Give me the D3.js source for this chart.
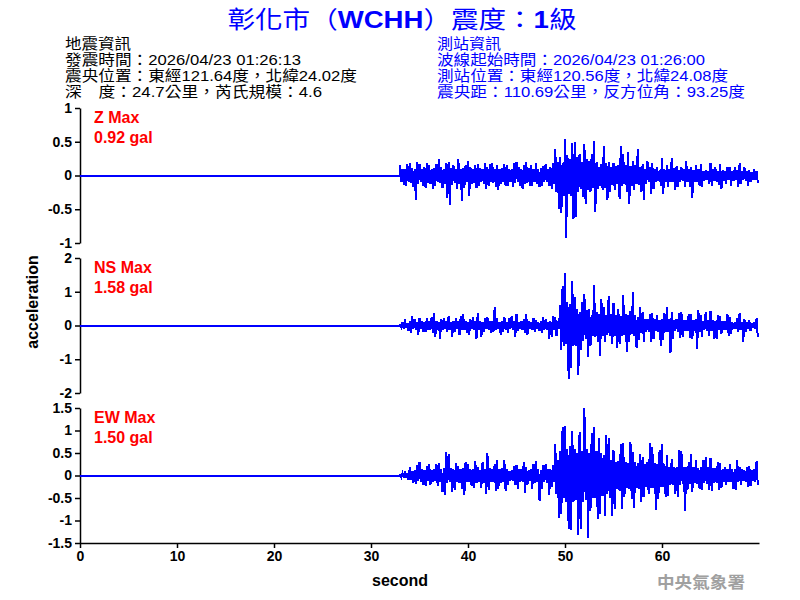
<!DOCTYPE html>
<html lang="zh-Hant">
<head>
<meta charset="UTF-8">
<title>彰化市 WCHH 震度</title>
<script src="https://cdn.jsdelivr.net/npm/d3@7"></script>
<style>
	body{margin:0;background:#fff;}
	svg{display:block;}
	.axis text{font-family:"Liberation Sans",Arial,sans-serif;font-weight:bold;font-size:14px;fill:#000;}
	.axis path,.axis line{stroke:#000;stroke-width:1.5px;}
	.info{font-family:"Liberation Sans","Noto Sans CJK TC",sans-serif;font-size:15px;}
	.lbl{font-family:"Liberation Sans",Arial,sans-serif;font-weight:bold;font-size:16px;}
	.trace{fill:none;stroke:#0000ff;stroke-width:2px;shape-rendering:crispEdges;}
</style>
</head>
<body>
<svg id="chart" width="800" height="600"></svg>
<script>
// traces: high / low acceleration (gal) in 0.25 s bins from 33 s
var binStart = 33, binStep = 0.25, timeEnd = 70;

var zHi = [0.16,0.09,0.1,0.17,0.18,0.11,0.1,0.2, 0.17,0.1,0.12,0.19,0.15,0.09,0.11,0.17,
	0.25,0.12,0.1,0.18,0.2,0.11,0.16,0.1, 0.25,0.1,0.11,0.15,0.22,0.12,0.1,0.16,
	0.17,0.11,0.1,0.18,0.12,0.17,0.19,0.1, 0.15,0.1,0.11,0.17,0.16,0.09,0.1,0.18,
	0.2,0.12,0.1,0.16,0.2,0.11,0.15,0.09, 0.18,0.1,0.11,0.14,0.17,0.1,0.12,0.18,
	0.39,0.2,0.27,0.18,0.54,0.3,0.25,0.48, 0.49,0.28,0.32,0.2,0.47,0.25,0.22,0.32,
	0.51,0.2,0.12,0.17,0.44,0.18,0.2,0.13, 0.18,0.14,0.15,0.44,0.32,0.16,0.35,0.14,
	0.22,0.15,0.4,0.12,0.17,0.1,0.22,0.12, 0.18,0.09,0.12,0.08,0.26,0.1,0.15,0.09,
	0.26,0.11,0.14,0.08,0.12,0.09,0.21,0.1, 0.12,0.08,0.15,0.09,0.17,0.07,0.08,0.06,
	0.18,0.09,0.12,0.07,0.17,0.08,0.07,0.13, 0.12,0.07,0.12,0.08,0.18,0.07,0.12,0.06,
	0.08,0.05,0.09,0.06];
var zLo = [-0.1,-0.14,-0.16,-0.1,-0.11,-0.17,-0.36,-0.12, -0.1,-0.16,-0.18,-0.11,-0.12,-0.2,-0.15,-0.1,
	-0.11,-0.18,-0.12,-0.33,-0.44,-0.14,-0.11,-0.2, -0.12,-0.38,-0.18,-0.1,-0.3,-0.12,-0.11,-0.18,
	-0.16,-0.1,-0.12,-0.2,-0.15,-0.1,-0.11,-0.17, -0.22,-0.12,-0.1,-0.16,-0.15,-0.1,-0.17,-0.11,
	-0.1,-0.16,-0.2,-0.12,-0.11,-0.15,-0.16,-0.1, -0.12,-0.17,-0.15,-0.1,-0.1,-0.16,-0.2,-0.12,
	-0.25,-0.49,-0.56,-0.3,-0.92,-0.28,-0.3,-0.64, -0.62,-0.25,-0.2,-0.32,-0.42,-0.22,-0.25,-0.18,
	-0.54,-0.2,-0.15,-0.22,-0.18,-0.37,-0.25,-0.14, -0.22,-0.13,-0.35,-0.15,-0.12,-0.25,-0.42,-0.16,
	-0.22,-0.12,-0.14,-0.25,-0.36,-0.12,-0.1,-0.28, -0.2,-0.1,-0.08,-0.15,-0.28,-0.1,-0.17,-0.09,
	-0.1,-0.22,-0.17,-0.09,-0.08,-0.17,-0.1,-0.17, -0.33,-0.1,-0.09,-0.15,-0.17,-0.08,-0.07,-0.12,
	-0.16,-0.08,-0.09,-0.14,-0.2,-0.08,-0.12,-0.07, -0.15,-0.08,-0.07,-0.17,-0.13,-0.07,-0.08,-0.16,
	-0.1,-0.06,-0.07,-0.11];

var nsHi = [0.03,0.1,0.2,0.08,0.14,0.27,0.2,0.1, 0.22,0.12,0.1,0.23,0.13,0.25,0.37,0.12,
	0.11,0.2,0.23,0.12,0.27,0.1,0.13,0.22, 0.12,0.27,0.33,0.13,0.1,0.2,0.25,0.12,
	0.37,0.12,0.11,0.23,0.25,0.13,0.12,0.54, 0.22,0.1,0.13,0.25,0.11,0.23,0.27,0.12,
	0.33,0.1,0.12,0.2,0.33,0.13,0.1,0.22, 0.17,0.1,0.12,0.25,0.2,0.11,0.13,0.27,
	0.25,0.12,0.6,1.16,1.55,0.7,0.65,1.33, 0.84,0.5,0.4,0.69,0.94,0.45,0.5,0.3,
	1.19,0.4,0.35,0.79,0.54,0.3,0.86,0.35, 0.66,0.3,0.5,0.28,0.89,0.35,0.3,0.44,
	0.98,0.3,0.25,0.54,0.4,0.2,0.18,0.35, 0.37,0.18,0.3,0.15,0.2,0.37,0.56,0.2,
	0.4,0.16,0.18,0.37,0.4,0.17,0.15,0.33, 0.35,0.15,0.18,0.46,0.3,0.14,0.4,0.16,
	0.44,0.15,0.14,0.3,0.27,0.12,0.13,0.33, 0.25,0.1,0.11,0.23,0.37,0.1,0.2,0.09,
	0.15,0.08,0.1,0.23];
var nsLo = [-0.04,-0.1,-0.08,-0.17,-0.23,-0.1,-0.12,-0.27, -0.11,-0.18,-0.2,-0.12,-0.13,-0.22,-0.33,-0.12,
	-0.41,-0.12,-0.11,-0.2,-0.12,-0.35,-0.2,-0.11, -0.27,-0.12,-0.13,-0.22,-0.27,-0.1,-0.12,-0.41,
	-0.12,-0.35,-0.2,-0.11,-0.13,-0.22,-0.2,-0.12, -0.11,-0.27,-0.2,-0.12,-0.23,-0.1,-0.13,-0.33,
	-0.17,-0.1,-0.12,-0.22,-0.27,-0.11,-0.13,-0.2, -0.1,-0.17,-0.22,-0.12,-0.13,-0.4,-0.33,-0.12,
	-0.3,-0.11,-0.72,-0.6,-0.55,-1.58,-1.25,-0.6, -0.6,-1.48,-0.74,-0.45,-0.4,-0.94,-0.6,-0.3,
	-0.35,-0.5,-0.89,-0.3,-0.49,-0.28,-0.3,-0.54, -0.3,-0.66,-0.55,-0.3,-0.28,-0.79,-0.49,-0.25,
	-0.3,-0.66,-0.44,-0.22,-0.5,-0.18,-0.2,-0.49, -0.4,-0.17,-0.2,-0.62,-0.42,-0.18,-0.2,-0.82,
	-0.4,-0.16,-0.18,-0.37,-0.35,-0.15,-0.17,-0.37, -0.4,-0.15,-0.69,-0.2,-0.35,-0.14,-0.15,-0.3,
	-0.16,-0.4,-0.4,-0.14,-0.25,-0.12,-0.13,-0.3, -0.25,-0.1,-0.11,-0.2,-0.12,-0.49,-0.2,-0.1,
	-0.15,-0.08,-0.1,-0.33];

var ewHi = [0.03,0.05,0.1,0.06,0.2,0.1,0.12,0.24, 0.3,0.14,0.13,0.22,0.26,0.13,0.14,0.26,
	0.28,0.15,0.16,0.53,0.48,0.16,0.15,0.27, 0.22,0.14,0.16,0.3,0.26,0.15,0.14,0.32,
	0.19,0.13,0.3,0.15,0.5,0.16,0.14,0.26, 0.35,0.15,0.16,0.35,0.15,0.11,0.13,0.22,
	0.24,0.14,0.15,0.3,0.19,0.12,0.14,0.26, 0.33,0.15,0.13,0.24,0.26,0.14,0.15,0.24,
	0.7,0.35,0.55,1.07,1.09,0.6,0.65,1.0, 0.59,0.5,0.96,0.55,1.5,0.6,0.5,0.94,
	1.07,0.55,0.84,0.5,0.45,0.91,0.84,0.35, 0.56,0.3,0.32,0.7,0.72,0.3,0.28,0.74,
	0.52,0.3,0.28,0.48,0.41,0.25,0.3,0.72, 0.64,0.28,0.25,0.57,0.7,0.25,0.45,0.2,
	0.37,0.2,0.18,0.56,0.54,0.2,0.18,0.3, 0.47,0.18,0.35,0.17,0.2,0.35,0.41,0.18,
	0.38,0.17,0.16,0.3,0.27,0.15,0.2,0.14, 0.26,0.15,0.14,0.35,0.2,0.14,0.13,0.2,
	0.22,0.13,0.15,0.33];
var ewLo = [-0.03,-0.05,-0.06,-0.11,-0.1,-0.17,-0.19,-0.12, -0.14,-0.22,-0.24,-0.13,-0.2,-0.14,-0.13,-0.24,
	-0.15,-0.37,-0.44,-0.16,-0.15,-0.37,-0.33,-0.14, -0.16,-0.3,-0.44,-0.15,-0.14,-0.24,-0.27,-0.16,
	-0.15,-0.27,-0.16,-0.42,-0.33,-0.14,-0.15,-0.35, -0.3,-0.16,-0.14,-0.35,-0.22,-0.12,-0.13,-0.22,
	-0.3,-0.14,-0.15,-0.39,-0.22,-0.13,-0.3,-0.16, -0.14,-0.56,-0.3,-0.15,-0.16,-0.44,-0.26,-0.14,
	-0.4,-0.94,-0.85,-0.5,-0.6,-1.19,-1.22,-0.6, -0.55,-1.33,-1.19,-0.6,-0.55,-1.39,-0.78,-0.5,
	-0.5,-0.96,-0.85,-0.45,-0.89,-0.4,-0.5,-0.89, -0.74,-0.3,-0.35,-0.74,-0.48,-0.28,-0.3,-0.52,
	-0.72,-0.28,-0.3,-0.59,-0.48,-0.25,-0.41,-0.28, -0.28,-0.76,-0.52,-0.25,-0.25,-0.48,-0.45,-0.2,
	-0.2,-0.41,-0.48,-0.2,-0.18,-0.78,-0.33,-0.18, -0.37,-0.17,-0.18,-0.3,-0.33,-0.17,-0.18,-0.33,
	-0.35,-0.17,-0.16,-0.33,-0.27,-0.15,-0.22,-0.14, -0.15,-0.3,-0.33,-0.14,-0.22,-0.13,-0.15,-0.26,
	-0.24,-0.13,-0.14,-0.2];

var channels = ["Z", "NS", "EW"];
var maxPga = ["0.92", "1.58", "1.50"];
var yLimit = [1, 2, 1.5];
var yTicks = [[-1,-0.5,0,0.5,1], [-2,-1,0,1,2], [-1.5,-1,-0.5,0,0.5,1,1.5]];
var xTicks = [0, 10, 20, 30, 40, 50, 60];

var title = ["彰化市（", "WCHH", "）震度：", "1", "級"];
var quakeInfo = ["地震資訊", "發震時間：2026/04/23 01:26:13", "震央位置：東經121.64度，北緯24.02度", "深　度：24.7公里，芮氏規模：4.6"];
var stationInfo = ["測站資訊", "波線起始時間：2026/04/23 01:26:00", "測站位置：東經120.56度，北緯24.08度", "震央距：110.69公里，反方位角：93.25度"];
var quakeWidths = [66, 236, 292, 257];
var stationWidths = [64, 268, 291, 308];

var svg = d3.select("#chart");
var left = 80, right = 759, panelTop = [108, 258, 408], panelH = 135;

var x = d3.scaleLinear().domain([0, timeEnd]).range([left, right]);

// title
var t = svg.append("text")
	.attr("x", 402).attr("y", 28)
	.attr("text-anchor", "middle")
	.attr("fill", "#0000ff")
	.attr("textLength", 349).attr("lengthAdjust", "spacingAndGlyphs")
	.style("font-size", "24px");
t.selectAll("tspan").data(title).enter().append("tspan")
	.text(function(d){ return d; })
	.style("font-family", function(d, i){ return i % 2 ? "'Liberation Sans',Arial,sans-serif" : "'Noto Sans CJK TC',sans-serif"; })
	.style("font-weight", function(d, i){ return i % 2 ? "bold" : "normal"; });

function infoBlock(lines, widths, x0, color){
	svg.selectAll(null).data(lines).enter().append("text")
		.attr("class", "info")
		.attr("x", x0)
		.attr("y", function(d, i){ return 49 + i * 16; })
		.attr("textLength", function(d, i){ return widths[i]; })
		.attr("lengthAdjust", "spacingAndGlyphs")
		.attr("fill", color)
		.text(function(d){ return d; });
}
infoBlock(quakeInfo, quakeWidths, 65, "#000");
infoBlock(stationInfo, stationWidths, 437, "#0000ff");

function tracePoints(hi, lo){
	var pts = [[0, 0], [binStart, 0]];
	hi.forEach(function(h, i){
		var tm = binStart + i * binStep;
		pts.push([tm, h]);
		pts.push([tm + binStep / 2, lo[i]]);
	});
	return pts;
}
var traces = [tracePoints(zHi, zLo), tracePoints(nsHi, nsLo), tracePoints(ewHi, ewLo)];

channels.forEach(function(ch, k){
	var top = panelTop[k];
	var y = d3.scaleLinear().domain([-yLimit[k], yLimit[k]]).range([top + panelH, top]);

	svg.append("g").attr("class", "axis")
		.attr("transform", "translate(" + left + ",0)")
		.call(d3.axisLeft(y).tickValues(yTicks[k]).tickSize(5).tickSizeOuter(0).tickPadding(3)
			.tickFormat(function(d){ return String(d); }));

	var line = d3.line()
		.x(function(d){ return x(d[0]); })
		.y(function(d){ return Math.round(y(d[1])); });
	svg.append("path").datum(traces[k]).attr("class", "trace").attr("d", line);

	svg.append("text").attr("class", "lbl").attr("fill", "#ff0000")
		.attr("x", 94).attr("y", top + 15).text(ch + " Max");
	svg.append("text").attr("class", "lbl").attr("fill", "#ff0000")
		.attr("x", 94).attr("y", top + 35).text(maxPga[k] + " gal");
});

svg.append("g").attr("class", "axis")
	.attr("transform", "translate(0," + (panelTop[2] + panelH) + ")")
	.call(d3.axisBottom(x).tickValues(xTicks).tickSize(5).tickSizeOuter(0).tickPadding(3));

svg.append("text").attr("class", "lbl")
	.attr("x", 400).attr("y", 586).attr("text-anchor", "middle").text("second");
svg.append("text").attr("class", "lbl")
	.attr("transform", "translate(38,302) rotate(-90)")
	.attr("text-anchor", "middle").text("acceleration");

svg.append("text")
	.attr("x", 701).attr("y", 588).attr("text-anchor", "middle")
	.attr("fill", "#a0a0a0")
	.style("font-family", "'Noto Sans CJK TC',sans-serif")
	.style("font-weight", "bold").style("font-size", "16px")
	.attr("textLength", 88).attr("lengthAdjust", "spacingAndGlyphs")
	.text("中央氣象署");
</script>
</body>
</html>
